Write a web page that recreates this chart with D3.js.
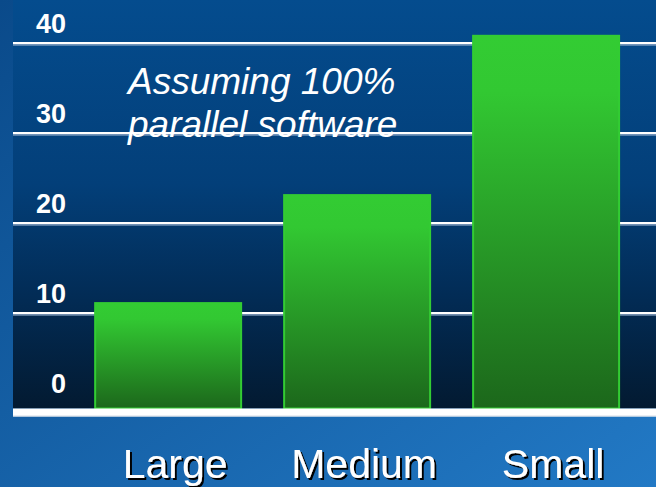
<!DOCTYPE html>
<html>
<head>
<meta charset="utf-8">
<script src="https://cdn.jsdelivr.net/npm/d3@7"></script>
<style>
  html, body { margin: 0; padding: 0; background: #0d5298; }
  svg { display: block; }
  text { font-family: "Liberation Sans", Arial, sans-serif; }
</style>
</head>
<body>
<svg id="chart" width="656" height="487"></svg>
<script>
// Relative throughput by core size
const categories = ["Large", "Medium", "Small"];
const speedups = [11.1, 23.1, 40.8];
const tickValues = [0, 10, 20, 30, 40];
const noteLines = ["Assuming 100%", "parallel software"];

const W = 656, H = 487;
const plot = { left: 13, right: 656, top: 0, bottom: 408.5 };
const floorHeight = 8;

const svg = d3.select("#chart");
const defs = svg.append("defs");

function gradient(id, x2, y2, stops) {
  const g = defs.append("linearGradient").attr("id", id)
    .attr("x1", 0).attr("y1", 0).attr("x2", x2).attr("y2", y2);
  stops.forEach(([o, c]) => g.append("stop").attr("offset", o).attr("stop-color", c));
}
gradient("pageBg", 1, 1, [[0, "#0a4a8a"], [1, "#2279c5"]]);
gradient("plotBg", 0, 1, [[0, "#044c8e"], [0.45, "#033f79"], [0.72, "#022c56"], [1, "#031a31"]]);
gradient("barFill", 0, 1, [[0, "#33cc33"], [0.15, "#32c832"], [1, "#1c671b"]]);

// Black drop shadow for the category labels
const shadow = defs.append("filter").attr("id", "labelShadow")
  .attr("x", "-10%").attr("y", "-10%").attr("width", "130%").attr("height", "130%");
shadow.append("feDropShadow")
  .attr("dx", 2).attr("dy", 2).attr("stdDeviation", 0.4)
  .attr("flood-color", "#000000").attr("flood-opacity", 1);

// Scales
const x = d3.scaleBand()
  .domain(categories)
  .range([plot.left, plot.right])
  .paddingInner(0.2275)
  .paddingOuter(0.315)
  .align(0.69);

const y = d3.scaleLinear()
  .domain([0, 40])
  .range([403, 43]);

// Backgrounds
svg.append("rect").attr("width", W).attr("height", H).attr("fill", "url(#pageBg)");
svg.append("rect")
  .attr("x", plot.left).attr("y", plot.top)
  .attr("width", plot.right - plot.left).attr("height", plot.bottom - plot.top)
  .attr("fill", "url(#plotBg)");

// Gridlines (soft edge underneath, white line on top)
const grid = svg.append("g");
const gridTicks = tickValues.filter(v => v > 0);
grid.selectAll("line.halo").data(gridTicks).join("line")
  .attr("class", "halo")
  .attr("x1", plot.left).attr("x2", plot.right)
  .attr("y1", d => y(d) + 1.2).attr("y2", d => y(d) + 1.2)
  .attr("stroke", "rgba(150,175,205,0.75)").attr("stroke-width", 3);
grid.selectAll("line.main").data(gridTicks).join("line")
  .attr("class", "main")
  .attr("x1", plot.left).attr("x2", plot.right)
  .attr("y1", d => y(d)).attr("y2", d => y(d))
  .attr("stroke", "#ffffff").attr("stroke-width", 2);

// Tick labels via a left axis
const axis = d3.axisLeft(y).tickValues(tickValues).tickSize(0).tickFormat(d3.format("d"));
const axisG = svg.append("g").attr("transform", `translate(${plot.left},0)`).call(axis);
axisG.select(".domain").remove();
axisG.selectAll("text")
  .attr("x", 53)
  .attr("dy", null)
  .attr("y", -11)
  .attr("text-anchor", "end")
  .attr("fill", "#ffffff")
  .style("font-family", "'Liberation Sans', Arial, sans-serif")
  .style("font-weight", "bold")
  .style("font-size", "27px");

// Annotation
const note = svg.append("text")
  .attr("fill", "#ffffff")
  .style("font-style", "italic")
  .style("font-size", "37px");
note.selectAll("tspan").data(noteLines).join("tspan")
  .attr("x", 128)
  .attr("y", (d, i) => 94 + i * 43)
  .text(d => d);

// Bars
svg.append("g").selectAll("rect").data(speedups).join("rect")
  .attr("x", (d, i) => x(categories[i]))
  .attr("y", d => y(d))
  .attr("width", x.bandwidth())
  .attr("height", d => plot.bottom - y(d))
  .attr("fill", "url(#barFill)")
  .attr("stroke", "#33cc33")
  .attr("stroke-width", 2);

// Floor band
svg.append("rect")
  .attr("x", plot.left).attr("y", plot.bottom)
  .attr("width", plot.right - plot.left).attr("height", floorHeight)
  .attr("fill", "#ffffff");
svg.append("line")
  .attr("x1", plot.left).attr("x2", plot.right)
  .attr("y1", plot.bottom + floorHeight - 0.5).attr("y2", plot.bottom + floorHeight - 0.5)
  .attr("stroke", "#d6dde6").attr("stroke-width", 1);

// Category labels
svg.append("g")
  .style("font-size", "41px")
  .attr("filter", "url(#labelShadow)")
  .selectAll("text").data(categories).join("text")
  .attr("x", d => x(d) + x.bandwidth() / 2 + 7)
  .attr("y", 478)
  .attr("text-anchor", "middle")
  .attr("fill", "#ffffff")
  .text(d => d);
</script>
</body>
</html>
